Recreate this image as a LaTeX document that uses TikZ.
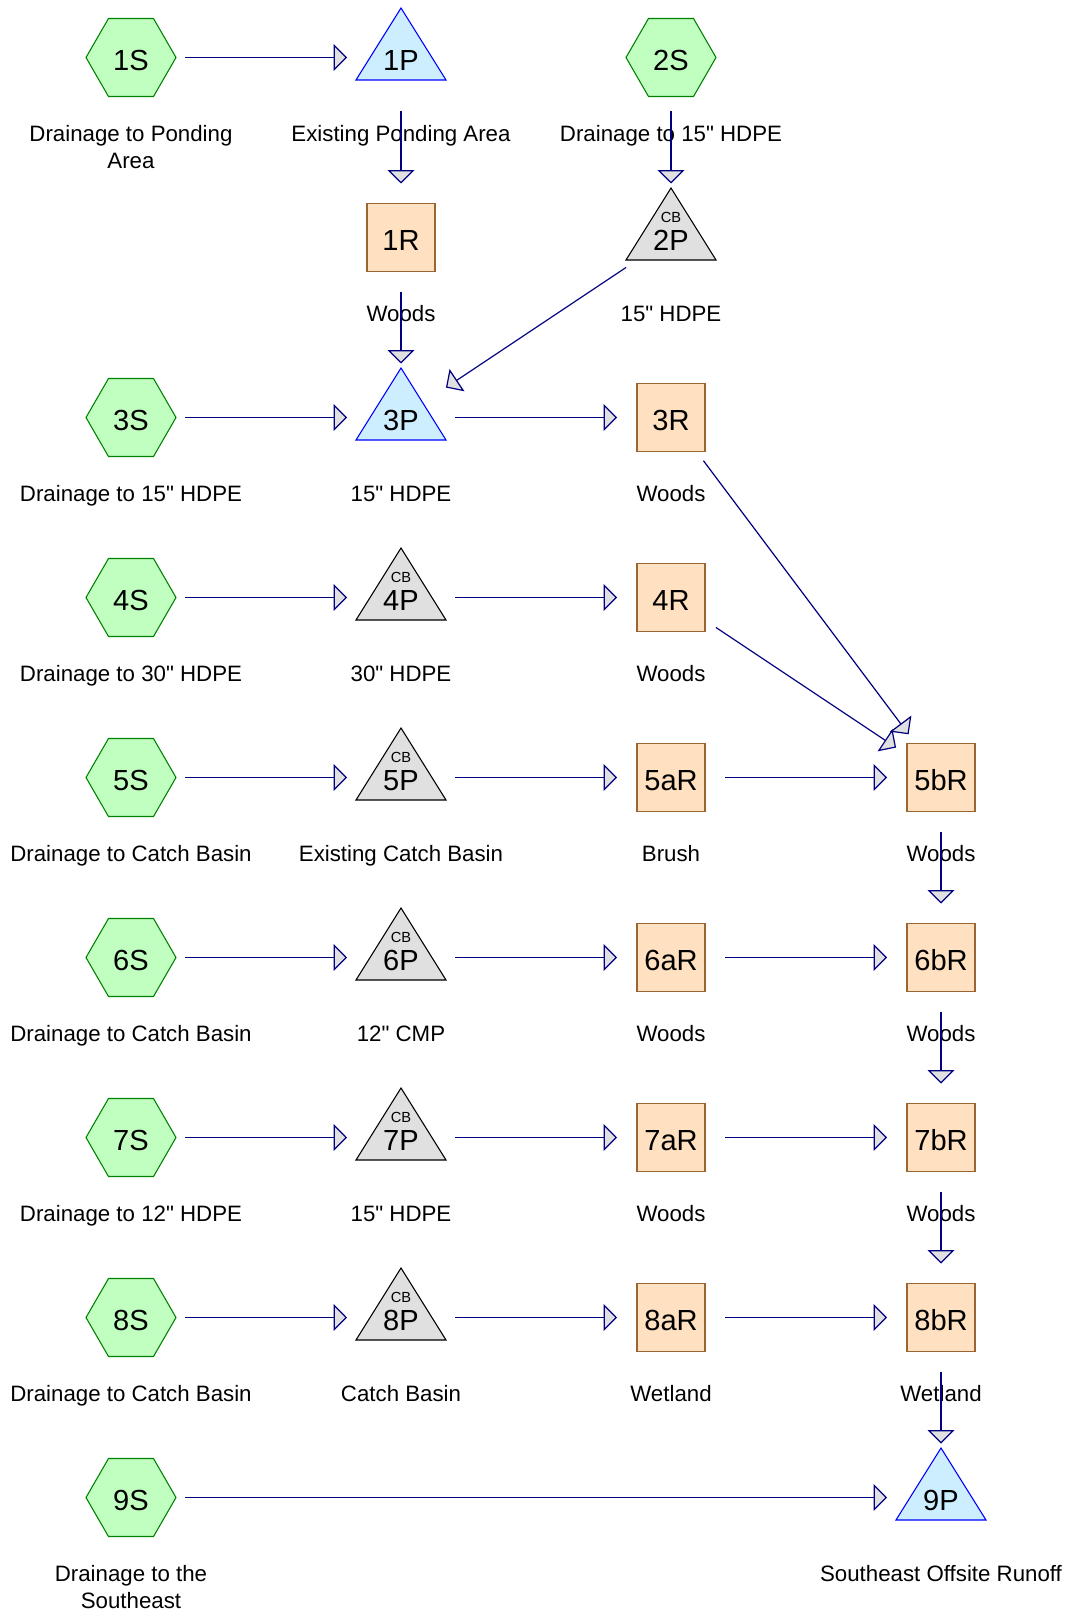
\documentclass[tikz,border=0pt]{standalone}
\usepackage{fontspec}
\usepackage{xcolor}
\usepackage{tikz}
\usetikzlibrary{arrows.meta}

\newfontfamily\hcfont{Liberation Sans}
\newcommand{\numtxt}{\hcfont\fontsize{21.8}{25}\selectfont}
\newcommand{\captxt}{\hcfont\fontsize{16.7}{19.9}\selectfont}
\newcommand{\cbtxt}{\hcfont\fontsize{11}{12}\selectfont}

\definecolor{hexfill}{RGB}{192,255,192}
\definecolor{hexline}{RGB}{0,128,0}
\definecolor{pondfill}{RGB}{204,238,255}
\definecolor{pondline}{RGB}{0,0,255}
\definecolor{cbfill}{RGB}{224,224,224}
\definecolor{reachfill}{RGB}{255,224,192}
\definecolor{reachline}{RGB}{153,102,51}
\definecolor{flowline}{RGB}{0,0,128}
\definecolor{tipfill}{RGB}{224,224,224}

\tikzset{
    unit/.style={circle, minimum size=81pt, inner sep=0pt, outer sep=0pt, font=\numtxt,
        text height=19pt, text depth=0pt},
    subcat/.style={unit, path picture={
        \draw[draw=hexline, fill=hexfill, line width=0.8pt] (path picture bounding box.center)
            +(-45,0) -- +(-22.5,-39) -- +(22.5,-39) -- +(45,0) -- +(22.5,39) -- +(-22.5,39) -- cycle;}},
    pond/.style={unit, path picture={
        \draw[draw=pondline, fill=pondfill, line width=0.8pt] (path picture bounding box.center)
            +(0,-49.5) -- +(45,22.5) -- +(-45,22.5) -- cycle;}},
    catchbasin/.style={unit, path picture={
        \draw[draw=black, fill=cbfill, line width=0.8pt] (path picture bounding box.center)
            +(0,-49.5) -- +(45,22.5) -- +(-45,22.5) -- cycle;},
        label={[name=#1-cb, font=\cbtxt, inner sep=0pt, anchor=center, yshift=-25.5pt]90:CB}},
    reach/.style={unit, path picture={
        \draw[draw=reachline, fill=reachfill, line width=0.8pt] (path picture bounding box.center)
            +(-34,-34) rectangle +(34,34);}},
    caption/.style={anchor=north, inner sep=0pt, align=center, font=\captxt},
    flow/.style={draw=flowline, line width=0.9pt, -{Triangle[length=10pt, width=20pt, fill=tipfill]}}
}

\begin{document}
\begin{tikzpicture}[x=0.75pt, y=-0.75pt]
        \useasboundingbox (0,0) rectangle (1071,1612);

        \node[subcat] (1S) at (131,57.5) {1S};
        \node[pond] (1P) at (401,57.5) {1P};
        \node[subcat] (2S) at (671,57.5) {2S};
        \node[reach] (1R) at (401,237.5) {1R};
        \node[catchbasin=2P] (2P) at (671,237.5) {2P};
        \node[subcat] (3S) at (131,417.5) {3S};
        \node[pond] (3P) at (401,417.5) {3P};
        \node[reach] (3R) at (671,417.5) {3R};
        \node[subcat] (4S) at (131,597.5) {4S};
        \node[catchbasin=4P] (4P) at (401,597.5) {4P};
        \node[reach] (4R) at (671,597.5) {4R};
        \node[subcat] (5S) at (131,777.5) {5S};
        \node[catchbasin=5P] (5P) at (401,777.5) {5P};
        \node[reach] (5aR) at (671,777.5) {5aR};
        \node[reach] (5bR) at (941,777.5) {5bR};
        \node[subcat] (6S) at (131,957.5) {6S};
        \node[catchbasin=6P] (6P) at (401,957.5) {6P};
        \node[reach] (6aR) at (671,957.5) {6aR};
        \node[reach] (6bR) at (941,957.5) {6bR};
        \node[subcat] (7S) at (131,1137.5) {7S};
        \node[catchbasin=7P] (7P) at (401,1137.5) {7P};
        \node[reach] (7aR) at (671,1137.5) {7aR};
        \node[reach] (7bR) at (941,1137.5) {7bR};
        \node[subcat] (8S) at (131,1317.5) {8S};
        \node[catchbasin=8P] (8P) at (401,1317.5) {8P};
        \node[reach] (8aR) at (671,1317.5) {8aR};
        \node[reach] (8bR) at (941,1317.5) {8bR};
        \node[subcat] (9S) at (131,1497.5) {9S};
        \node[pond] (9P) at (941,1497.5) {9P};

        \node[caption] (1S-t) at (131,125.5) {Drainage to Ponding\\Area};
        \node[caption] (1P-t) at (401,125.5) {Existing Ponding Area};
        \node[caption] (2S-t) at (671,125.5) {Drainage to 15" HDPE};
        \node[caption] (1R-t) at (401,305.5) {Woods};
        \node[caption] (2P-t) at (671,305.5) {15" HDPE};
        \node[caption] (3S-t) at (131,485.5) {Drainage to 15" HDPE};
        \node[caption] (3P-t) at (401,485.5) {15" HDPE};
        \node[caption] (3R-t) at (671,485.5) {Woods};
        \node[caption] (4S-t) at (131,665.5) {Drainage to 30" HDPE};
        \node[caption] (4P-t) at (401,665.5) {30" HDPE};
        \node[caption] (4R-t) at (671,665.5) {Woods};
        \node[caption] (5S-t) at (131,845.5) {Drainage to Catch Basin};
        \node[caption] (5P-t) at (401,845.5) {Existing Catch Basin};
        \node[caption] (5aR-t) at (671,845.5) {Brush};
        \node[caption] (5bR-t) at (941,845.5) {Woods};
        \node[caption] (6S-t) at (131,1025.5) {Drainage to Catch Basin};
        \node[caption] (6P-t) at (401,1025.5) {12" CMP};
        \node[caption] (6aR-t) at (671,1025.5) {Woods};
        \node[caption] (6bR-t) at (941,1025.5) {Woods};
        \node[caption] (7S-t) at (131,1205.5) {Drainage to 12" HDPE};
        \node[caption] (7P-t) at (401,1205.5) {15" HDPE};
        \node[caption] (7aR-t) at (671,1205.5) {Woods};
        \node[caption] (7bR-t) at (941,1205.5) {Woods};
        \node[caption] (8S-t) at (131,1385.5) {Drainage to Catch Basin};
        \node[caption] (8P-t) at (401,1385.5) {Catch Basin};
        \node[caption] (8aR-t) at (671,1385.5) {Wetland};
        \node[caption] (8bR-t) at (941,1385.5) {Wetland};
        \node[caption] (9S-t) at (131,1565.5) {Drainage to the\\Southeast};
        \node[caption] (9P-t) at (941,1565.5) {Southeast Offsite Runoff};

        \draw[flow] (1S) -- (1P);
        \draw[flow] (1P) -- (1R);
        \draw[flow] (2S) -- (2P);
        \draw[flow] (1R) -- (3P);
        \draw[flow] (2P) -- (3P);
        \draw[flow] (3S) -- (3P);
        \draw[flow] (3P) -- (3R);
        \draw[flow] (3R) -- (5bR);
        \draw[flow] (4S) -- (4P);
        \draw[flow] (4P) -- (4R);
        \draw[flow] (4R) -- (5bR);
        \draw[flow] (5S) -- (5P);
        \draw[flow] (5P) -- (5aR);
        \draw[flow] (5aR) -- (5bR);
        \draw[flow] (5bR) -- (6bR);
        \draw[flow] (6S) -- (6P);
        \draw[flow] (6P) -- (6aR);
        \draw[flow] (6aR) -- (6bR);
        \draw[flow] (6bR) -- (7bR);
        \draw[flow] (7S) -- (7P);
        \draw[flow] (7P) -- (7aR);
        \draw[flow] (7aR) -- (7bR);
        \draw[flow] (7bR) -- (8bR);
        \draw[flow] (8S) -- (8P);
        \draw[flow] (8P) -- (8aR);
        \draw[flow] (8aR) -- (8bR);
        \draw[flow] (8bR) -- (9P);
        \draw[flow] (9S) -- (9P);
    \end{tikzpicture}
\end{document}
